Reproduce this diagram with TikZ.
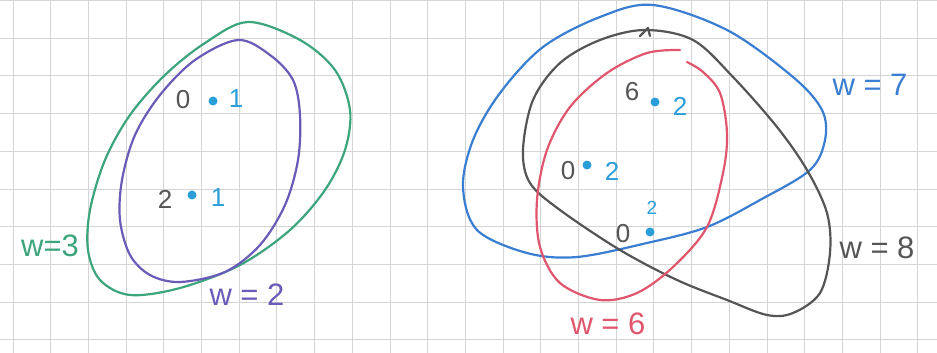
\documentclass[tikz,border=0pt]{standalone}
\usepackage{fontspec}
\setmainfont{Liberation Sans}
\definecolor{gridc}{HTML}{D4D4D4}
\definecolor{cgreen}{HTML}{3DA57C}
\definecolor{cpurple}{HTML}{6A5BB8}
\definecolor{cblue}{HTML}{3A7ED2}
\definecolor{cgray}{HTML}{555555}
\definecolor{cred}{HTML}{E0566E}
\definecolor{cdot}{HTML}{2A9ED8}
\tikzset{
  pen/.style={line width=2.2pt, line cap=round, line join=round},
  num/.style={text=cgray, font=\fontsize{26}{26}\selectfont, inner sep=0pt},
  wt/.style={text=cdot, font=\fontsize{26}{26}\selectfont, inner sep=0pt},
  lab/.style={font=\fontsize{31}{31}\selectfont, inner sep=0pt},
  dotc/.style={circle, fill=cdot, minimum size=9pt, inner sep=0pt}
}
\begin{document}
\begin{tikzpicture}[x=1pt,y=-1pt]
\useasboundingbox (0,0) rectangle (937,353);
\fill[white] (0,0) rectangle (937,353);
% grid
\foreach \i in {0,...,24} { \draw[gridc, line width=1pt] ({13+37.7*\i},0) -- ({13+37.7*\i},353); }
\foreach \j in {0,...,9} { \draw[gridc, line width=1pt] (0,{0.5+37.7*\j}) -- (937,{0.5+37.7*\j}); }

% left: green w=3
\draw[pen, cgreen] plot[smooth cycle, tension=0.55] coordinates {
 (248,22) (300,40) (335,70) (350,110) (345,150) (325,190) (290,230) (240,265)
 (180,288) (130,295) (100,280) (88,250) (90,210) (105,160) (130,115) (165,75) (205,43)};
% left: purple w=2
\draw[pen, cpurple] plot[smooth cycle, tension=0.55] coordinates {
 (238,40) (270,55) (293,80) (300,115) (298,160) (285,205) (260,245) (225,272)
 (180,282) (150,275) (130,255) (120,220) (122,180) (135,135) (160,95) (195,60)};

\node[num] (a0) at (183,100) {0};
\node[dotc] (ad) at (213,101) {};
\node[wt] (a1) at (236,99) {1};
\node[num] (b2) at (165,199) {2};
\node[dotc] (bd) at (192,195) {};
\node[wt] (b1) at (218,198) {1};
\node[lab, text=cgreen] (w3) at (50,246) {w=3};
\node[lab, text=cpurple] (w2) at (247,295) {w = 2};

% right: blue w=7
\draw[pen, cblue] plot[smooth cycle, tension=0.55] coordinates {
 (653,5) (727,30) (793,77) (822,110) (825,140) (810,170) (760,200) (707,227)
 (647,243) (577,257) (527,253) (477,230) (463,187) (473,140) (500,93) (543,47) (600,17)};
% right: gray w=8
\draw[pen, cgray] plot[smooth cycle, tension=0.55] coordinates {
 (645,30) (693,40) (733,77) (777,127) (807,170) (827,213) (830,253) (820,293)
 (793,313) (767,315) (727,300) (677,280) (620,250) (560,210) (530,183) (523,150)
 (533,100) (560,63) (600,40)};
\draw[pen, cgray] (640,36) -- (648,28) -- (650,36);
% right: red w=6 (open at top)
\draw[pen, cred] plot[smooth, tension=0.55] coordinates {
 (680,50) (647,53) (607,73) (570,107) (547,150) (537,200) (540,247) (560,283)
 (600,300) (637,293) (673,267) (707,227) (723,173) (727,133) (720,93) (703,72) (687,62)};

\node[num] (c6) at (632,92) {6};
\node[dotc] (cd) at (655,102) {};
\node[wt] (c2) at (680,106) {2};
\node[num] (d0) at (568,171) {0};
\node[dotc] (dd) at (587,165) {};
\node[wt] (d2) at (612,171) {2};
\node[num] (e0) at (623,234) {0};
\node[dotc] (ed) at (650,232) {};
\node[wt, font=\fontsize{19}{19}\selectfont] (e2) at (652,208) {2};
\node[lab, text=cblue] (w7) at (870,85) {w = 7};
\node[lab, text=cgray] (w8) at (877,248) {w = 8};
\node[lab, text=cred] (w6) at (608,324) {w = 6};
\end{tikzpicture}
\end{document}
